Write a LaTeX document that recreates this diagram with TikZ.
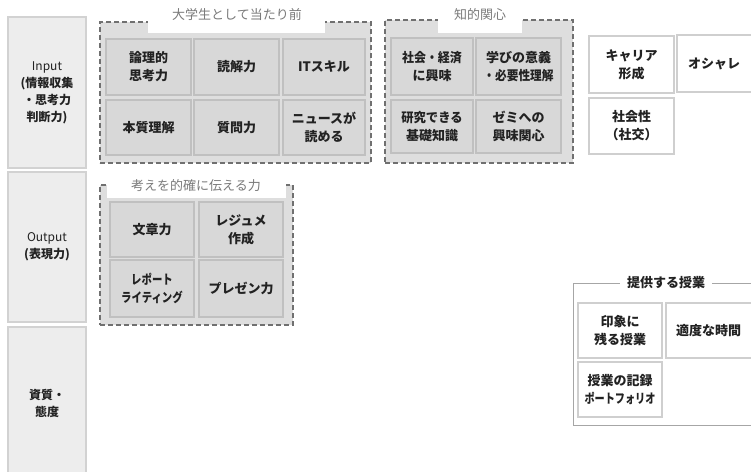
\documentclass[tikz,border=0pt]{standalone}
\usepackage{fontspec}
\usepackage{graphicx}
\setmainfont{Noto Sans CJK JP}
\definecolor{leftfill}{HTML}{EDEDED}
\definecolor{leftline}{HTML}{D2D2D2}
\definecolor{grpfill}{HTML}{DEDEDE}
\definecolor{cellfill}{HTML}{D8D8D8}
\definecolor{cellline}{HTML}{C0C0C0}
\definecolor{dashline}{HTML}{707070}
\definecolor{titlecol}{HTML}{7A7A7A}
\definecolor{wline}{HTML}{CFCFCF}
\definecolor{txt}{HTML}{222222}
\newcommand\mkbox[7]{%
  \pgfmathsetmacro\bw{#4-#2}\pgfmathsetmacro\bh{#5-#3}%
  \node[#6, anchor=north west, minimum width=\bw pt, minimum height=\bh pt] (#1) at (#2,#3) {#7};}
\newcommand\narrow[2]{\scalebox{#1}[1]{#2}}
\tikzset{
  every node/.style={inner sep=0pt, outer sep=0pt},
  leftbox/.style={draw=leftline, fill=leftfill, line width=1.2pt, align=center,
    font=\fontsize{12}{17}\selectfont\bfseries, text=txt},
  grpbox/.style={draw=dashline, fill=grpfill, line width=1.6pt, dash pattern=on 5pt off 3pt},
  cellbox/.style={draw=cellline, fill=cellfill, line width=1.2pt, align=center,
    font=\fontsize{13}{18}\selectfont\bfseries, text=txt},
  whitebox/.style={draw=wline, fill=white, line width=1.4pt, align=center,
    font=\fontsize{13}{18}\selectfont\bfseries, text=txt},
  titlebg/.style={fill=white},
  titletext/.style={font=\fontsize{13}{15}\selectfont, text=titlecol},
  framebox/.style={draw=wline!80!black, line width=1pt},
}
\begin{document}
\begin{tikzpicture}[x=1pt, y=-1pt]
\useasboundingbox (0,0) rectangle (751,471);
\clip (0,0) rectangle (751,471);
% left column
\mkbox{inL}{8}{17}{86}{168}{leftbox}{{\mdseries Input}\\(情報収集\\・思考力\\判断力)}
\mkbox{outL}{8}{172}{86}{322}{leftbox}{{\mdseries Output}\\(表現力)}
\mkbox{attL}{8}{327}{86}{480}{leftbox}{資質・\\態度}
% group 1
\mkbox{g1}{100}{22}{371}{163}{grpbox}{}
\mkbox{g1t}{148}{4}{325}{33}{titlebg}{}
\node[titletext] (g1title) at (237,15) {大学生として当たり前};
\mkbox{c11}{106}{39}{191}{95}{cellbox}{論理的\\思考力}
\mkbox{c12}{194}{39}{279}{95}{cellbox}{読解力}
\mkbox{c13}{283}{39}{365}{95}{cellbox}{ITスキル}
\mkbox{c14}{106}{100}{191}{155}{cellbox}{本質理解}
\mkbox{c15}{194}{100}{279}{155}{cellbox}{質問力}
\mkbox{c16}{283}{100}{365}{155}{cellbox}{ニュースが\\読める}
% group 2
\mkbox{g2}{385}{20}{573}{163}{grpbox}{}
\mkbox{g2t}{438}{4}{522}{33}{titlebg}{}
\node[titletext] (g2title) at (480,15) {知的関心};
\mkbox{c21}{391}{38}{473}{95}{cellbox}{\narrow{0.92}{社会・経済}\\に興味}
\mkbox{c22}{476}{38}{561}{95}{cellbox}{学びの意義\\\narrow{0.9}{・必要性理解}}
\mkbox{c23}{391}{100}{473}{153}{cellbox}{\narrow{0.95}{研究できる}\\基礎知識}
\mkbox{c24}{476}{100}{561}{153}{cellbox}{ゼミへの\\興味関心}
% right white boxes
\mkbox{w1}{589}{36}{674}{93}{whitebox}{キャリア\\形成}
\mkbox{w2}{677}{35}{765}{92}{whitebox}{\hspace*{-14pt}オシャレ}
\mkbox{w3}{589}{98}{674}{154}{whitebox}{社会性\\（社交）}
% group 3
\mkbox{g3}{100}{185}{293}{325}{grpbox}{}
\mkbox{g3t}{107}{170}{286}{198}{titlebg}{}
\node[titletext] (g3title) at (196,186) {考えを的確に伝える力};
\mkbox{c31}{110}{202}{194}{257}{cellbox}{文章力}
\mkbox{c32}{199}{202}{283}{257}{cellbox}{レジュメ\\作成}
\mkbox{c33}{110}{260}{194}{317}{cellbox}{\narrow{0.8}{レポート}\\\narrow{0.8}{ライティング}}
\mkbox{c34}{199}{260}{283}{317}{cellbox}{プレゼン力}
% group 4
\mkbox{g4}{573}{283}{770}{425}{framebox}{}
\node[fill=white, inner xsep=7pt, inner ysep=2pt, font=\fontsize{13}{15}\selectfont\bfseries, text=txt] (g4title) at (666,283) {提供する授業};
\mkbox{c41}{578}{303}{662}{358}{whitebox}{印象に\\残る授業}
\mkbox{c42}{666}{303}{770}{358}{whitebox}{\hspace*{-19pt}適度な時間}
\mkbox{c43}{578}{362}{662}{417}{whitebox}{授業の記録\\\narrow{0.78}{ポートフォリオ}}
\end{tikzpicture}
\end{document}
